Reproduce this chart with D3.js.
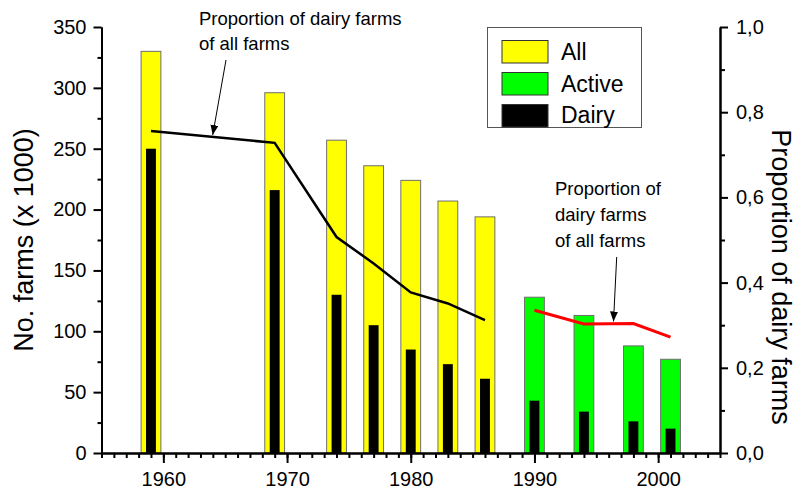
<!DOCTYPE html>
<html>
<head>
<meta charset="utf-8">
<script src="https://cdn.jsdelivr.net/npm/d3@7"></script>
<style>
  body { margin: 0; background: #fff; }
  svg { display: block; font-family: "Liberation Sans", Arial, sans-serif; }
  .axis path, .axis line { stroke: #000; stroke-width: 2px; }
  .axis text { fill: #000; font-size: 20px; }
</style>
</head>
<body>
<div id="chart"></div>
<script>
// data
let allYears = [1959, 1969, 1974, 1977, 1980, 1983, 1986]
let allFarms = [330, 296, 257, 236, 224, 207, 194]
let activeYears = [1990, 1994, 1998, 2001]
let activeFarms = [128, 113, 88, 77]
let dairyYears = [1959, 1969, 1974, 1977, 1980, 1983, 1986, 1990, 1994, 1998, 2001]
let dairyFarms = [250, 216, 130, 105, 85, 73, 61, 43, 34, 26, 20]
let propAll = [0.756, 0.728, 0.507, 0.445, 0.377, 0.351, 0.312]
let propActive = [0.335, 0.303, 0.304, 0.272]
let xTickLabels = [1960, 1970, 1980, 1990, 2000]
let legendLabels = ["All", "Active", "Dairy"]
let legendColors = ["#ffff00", "#00ff00", "#000000"]

let width = 799, height = 491
let margin = {top: 27, right: 79, bottom: 38, left: 101.5}

let svg = d3.select("#chart").append("svg")
    .attr("width", width)
    .attr("height", height)

let x = d3.scaleLinear().domain([1955, 2005]).range([margin.left, width - margin.right])
let y = d3.scaleLinear().domain([0, 350]).range([height - margin.bottom, margin.top])
let y2 = d3.scaleLinear().domain([0, 1]).range([height - margin.bottom, margin.top])

let barW = x(1.6) - x(0)
let dairyW = x(0.8) - x(0)

// bars: all farms
svg.append("g").selectAll("rect")
    .data(allYears.map((d, i) => ({year: d, v: allFarms[i]})))
    .enter().append("rect")
    .attr("x", d => x(d.year) - barW / 2)
    .attr("y", d => y(d.v))
    .attr("width", barW)
    .attr("height", d => y(0) - y(d.v))
    .attr("fill", "#ffff00")
    .attr("stroke", "#6e6e6e")
    .attr("stroke-width", 1)

// bars: active farms
svg.append("g").selectAll("rect")
    .data(activeYears.map((d, i) => ({year: d, v: activeFarms[i]})))
    .enter().append("rect")
    .attr("x", d => x(d.year) - barW / 2)
    .attr("y", d => y(d.v))
    .attr("width", barW)
    .attr("height", d => y(0) - y(d.v))
    .attr("fill", "#00ff00")
    .attr("stroke", "#6e6e6e")
    .attr("stroke-width", 1)

// bars: dairy farms
svg.append("g").selectAll("rect")
    .data(dairyYears.map((d, i) => ({year: d, v: dairyFarms[i]})))
    .enter().append("rect")
    .attr("x", d => x(d.year) - dairyW / 2)
    .attr("y", d => y(d.v))
    .attr("width", dairyW)
    .attr("height", d => y(0) - y(d.v))
    .attr("fill", "#000")

// proportion lines
let line = d3.line().x(d => x(d[0])).y(d => y2(d[1]))
svg.append("path")
    .datum(allYears.map((d, i) => [d, propAll[i]]))
    .attr("d", line)
    .attr("fill", "none")
    .attr("stroke", "#000")
    .attr("stroke-width", 2.5)
svg.append("path")
    .datum(activeYears.map((d, i) => [d, propActive[i]]))
    .attr("d", line)
    .attr("fill", "none")
    .attr("stroke", "#ff0000")
    .attr("stroke-width", 3)

// axes
let yAxis = svg.append("g").attr("class", "axis")
    .attr("transform", `translate(${margin.left},0)`)
yAxis.call(d3.axisLeft(y).tickValues(d3.range(25, 350, 50)).tickSize(4).tickSizeOuter(0).tickFormat(""))
yAxis.call(g => g.append("g").call(d3.axisLeft(y).tickValues(d3.range(0, 351, 50)).tickSize(8).tickSizeOuter(0).tickPadding(7)))

let y2Axis = svg.append("g").attr("class", "axis")
    .attr("transform", `translate(${width - margin.right},0)`)
y2Axis.call(d3.axisRight(y2).tickValues(d3.range(0.1, 1, 0.2)).tickSize(5).tickSizeOuter(0).tickFormat(""))
y2Axis.call(g => g.append("g").call(d3.axisRight(y2).tickValues(d3.range(0, 1.01, 0.2)).tickSize(8).tickSizeOuter(0).tickPadding(8)
    .tickFormat(d => d.toFixed(1).replace(".", ","))))

let xAxis = svg.append("g").attr("class", "axis")
    .attr("transform", `translate(0,${height - margin.bottom})`)
xAxis.call(d3.axisBottom(x).tickValues(d3.range(1955, 2006, 1)).tickSize(5).tickSizeOuter(0).tickFormat(""))
xAxis.call(g => g.append("g").call(d3.axisBottom(x).tickValues(xTickLabels).tickSize(10).tickSizeOuter(0).tickPadding(9).tickFormat(d3.format("d"))))
svg.selectAll(".axis .domain").attr("stroke-width", 2)

// axis titles
svg.append("text")
    .attr("transform", `translate(33,${(y(0) + y(350)) / 2}) rotate(-90)`)
    .attr("text-anchor", "middle")
    .style("font-size", "27px")
    .text("No. farms (x 1000)")
svg.append("text")
    .attr("transform", `translate(772,${(y2(0) + y2(1)) / 2 + 37}) rotate(90)`)
    .attr("text-anchor", "middle")
    .style("font-size", "27px")
    .text("Proportion of dairy farms")

// annotations
let annot = function(xp, lines, y0, dy) {
    let t = svg.append("text").style("font-size", "18.5px")
    lines.forEach((l, i) => t.append("tspan").attr("x", xp).attr("y", y0 + i * dy).text(l))
}
annot(199, ["Proportion of dairy farms", "of all farms"], 25, 25)
annot(555, ["Proportion of", "dairy farms", "of all farms"], 195, 26)

svg.append("defs").append("marker")
    .attr("id", "arrow")
    .attr("viewBox", "0 0 10 8")
    .attr("refX", 10).attr("refY", 4)
    .attr("markerWidth", 10).attr("markerHeight", 8)
    .attr("markerUnits", "userSpaceOnUse")
    .attr("orient", "auto")
    .append("path").attr("d", "M0,0L10,4L0,8Z").attr("fill", "#000")

let arrow = function(x1, y1, x2, y2v) {
    svg.append("line")
        .attr("x1", x1).attr("y1", y1).attr("x2", x2).attr("y2", y2v)
        .attr("stroke", "#000").attr("stroke-width", 1)
        .attr("marker-end", "url(#arrow)")
}
arrow(226, 60, 212.7, 135)
arrow(616.7, 257, 613.5, 321.5)

// legend
let legend = svg.append("g")
legend.append("rect")
    .attr("x", 487.5).attr("y", 27.5).attr("width", 154).attr("height", 100)
    .attr("fill", "#fff").attr("stroke", "#555").attr("stroke-width", 1)
legendLabels.forEach((l, i) => {
    legend.append("rect")
        .attr("x", 502).attr("y", 40.5 + i * 32).attr("width", 46).attr("height", 22.5)
        .attr("fill", legendColors[i]).attr("stroke", "#333").attr("stroke-width", 1)
    legend.append("text")
        .attr("x", 561).attr("y", 60 + i * 31.5)
        .style("font-size", "23px")
        .text(l)
})
</script>
</body>
</html>
